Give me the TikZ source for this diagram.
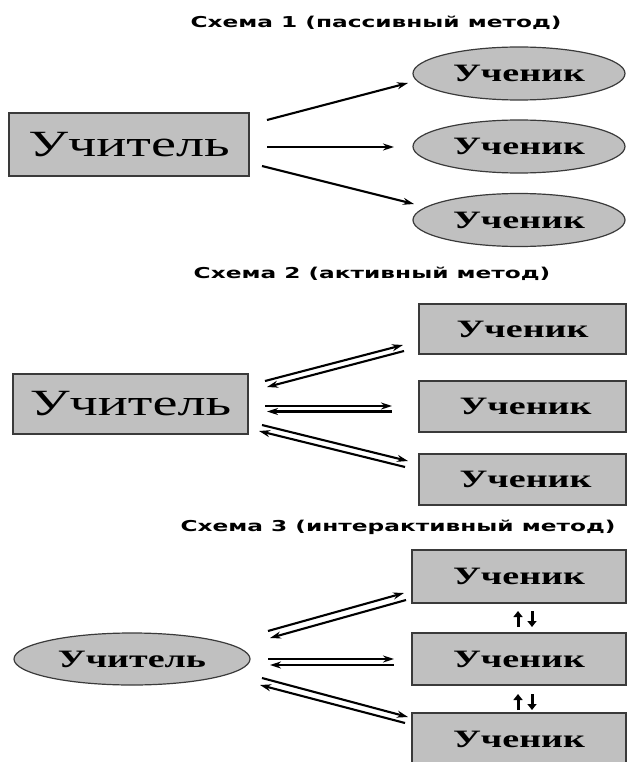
\documentclass[tikz,border=0pt]{standalone}
\usepackage{fontspec}
\setmainfont{Liberation Serif}
\newfontfamily\titlefont{DejaVu Sans}
\usetikzlibrary{arrows.meta,shapes.geometric}
\definecolor{boxfill}{HTML}{C0C0C0}
\definecolor{boxline}{HTML}{3A3A3A}
\tikzset{
  titletext/.style={inner sep=0pt,font=\titlefont\bfseries\fontsize{15}{17}\selectfont},
  studtext/.style={font=\bfseries\fontsize{25}{28}\selectfont},
  boxnode/.style={draw=boxline,line width=1.4pt,fill=boxfill,inner sep=0pt},
  ellnode/.style={ellipse,draw=boxline,line width=1.2pt,fill=boxfill,inner sep=0pt},
  conn/.style={line width=2.1pt,-{Stealth[length=11pt,width=7pt]}},
  connb/.style={line width=2.1pt,{Stealth[length=11pt,width=7pt]}-},
  updown/.style={line width=3pt,-{Triangle[length=6pt,width=9pt]}},
}
\newcommand{\hs}[1]{\scalebox{1.52}[1]{#1}}
\newcommand{\ts}[1]{\scalebox{1.55}[1]{#1}}
\begin{document}
\begin{tikzpicture}[x=1pt,y=-1pt]
\useasboundingbox (0,0) rectangle (627,762);
\clip (0,0) rectangle (627,762);
% ---------- Scheme 1 ----------
\node[titletext] (title1) at (376,23) {\ts{Схема 1 (пассивный метод)}};
\node[boxnode,minimum width=240pt,minimum height=63pt,font=\fontsize{37}{40}\selectfont] (t1) at (129,144.5) {\hs{Учитель}};
\node[ellnode,minimum width=212pt,minimum height=53pt,studtext] (s11) at (519,73.5) {\hs{Ученик}};
\node[ellnode,minimum width=212pt,minimum height=53pt,studtext] (s12) at (519,146.5) {\hs{Ученик}};
\node[ellnode,minimum width=212pt,minimum height=53pt,studtext] (s13) at (519,220) {\hs{Ученик}};
\coordinate (a1s) at (267,120); \coordinate (a1e) at (408,83);
\coordinate (a2s) at (267,147); \coordinate (a2e) at (394,147);
\coordinate (a3s) at (262,166); \coordinate (a3e) at (414,204);
\draw[conn] (a1s) -- (a1e);
\draw[conn] (a2s) -- (a2e);
\draw[conn] (a3s) -- (a3e);
% ---------- Scheme 2 ----------
\node[titletext] (title2) at (372,274) {\ts{Схема 2 (активный метод)}};
\node[boxnode,minimum width=235pt,minimum height=60pt,font=\fontsize{37}{40}\selectfont] (t2) at (130.5,404) {\hs{Учитель}};
\node[boxnode,minimum width=207pt,minimum height=50pt,studtext] (s21) at (522.5,329) {\hs{Ученик}};
\node[boxnode,minimum width=207pt,minimum height=51pt,studtext] (s22) at (522.5,406.5) {\hspace*{6pt}\hs{Ученик}};
\node[boxnode,minimum width=207pt,minimum height=51pt,studtext] (s23) at (522.5,479.5) {\hspace*{6pt}\hs{Ученик}};
\coordinate (b1us) at (265,381); \coordinate (b1ue) at (403,345);
\coordinate (b1ls) at (267,387); \coordinate (b1le) at (404,351);
\coordinate (b2us) at (265,406); \coordinate (b2ue) at (392,406);
\coordinate (b2ls) at (267,411.5); \coordinate (b2le) at (392,411.5);
\coordinate (b3us) at (262,425); \coordinate (b3ue) at (408,461);
\coordinate (b3ls) at (259,431); \coordinate (b3le) at (405,467);
\draw[conn] (b1us) -- (b1ue); \draw[connb] (b1ls) -- (b1le);
\draw[conn] (b2us) -- (b2ue); \draw[connb] (b2ls) -- (b2le);
\draw[conn] (b3us) -- (b3ue); \draw[connb] (b3ls) -- (b3le);
% ---------- Scheme 3 ----------
\node[titletext] (title3) at (398,527) {\ts{Схема 3 (интерактивный метод)}};
\node[ellnode,minimum width=236pt,minimum height=52pt,studtext] (t3) at (132,659) {\hs{Учитель}};
\node[boxnode,minimum width=214pt,minimum height=53pt,studtext] (s31) at (519,576.5) {\hs{Ученик}};
\node[boxnode,minimum width=214pt,minimum height=52pt,studtext] (s32) at (519,659) {\hs{Ученик}};
\node[boxnode,minimum width=214pt,minimum height=53pt,studtext] (s33) at (519,739.5) {\hs{Ученик}};
% small vertical arrows between the student boxes
\coordinate (u1s) at (518,627); \coordinate (u1e) at (518,611);
\coordinate (d1s) at (532,611); \coordinate (d1e) at (532,627);
\coordinate (u2s) at (518,710); \coordinate (u2e) at (518,694);
\coordinate (d2s) at (532,694); \coordinate (d2e) at (532,710);
\draw[updown] (u1s) -- (u1e); \draw[updown] (d1s) -- (d1e);
\draw[updown] (u2s) -- (u2e); \draw[updown] (d2s) -- (d2e);
\coordinate (c1us) at (268,631); \coordinate (c1ue) at (404,593);
\coordinate (c1ls) at (270,638); \coordinate (c1le) at (406,600);
\coordinate (c2us) at (268,659); \coordinate (c2ue) at (394,659);
\coordinate (c2ls) at (270,665); \coordinate (c2le) at (394,665);
\coordinate (c3us) at (262,678); \coordinate (c3ue) at (408,717);
\coordinate (c3ls) at (260,685); \coordinate (c3le) at (405,723);
\draw[conn] (c1us) -- (c1ue); \draw[connb] (c1ls) -- (c1le);
\draw[conn] (c2us) -- (c2ue); \draw[connb] (c2ls) -- (c2le);
\draw[conn] (c3us) -- (c3ue); \draw[connb] (c3ls) -- (c3le);
\end{tikzpicture}
\end{document}
